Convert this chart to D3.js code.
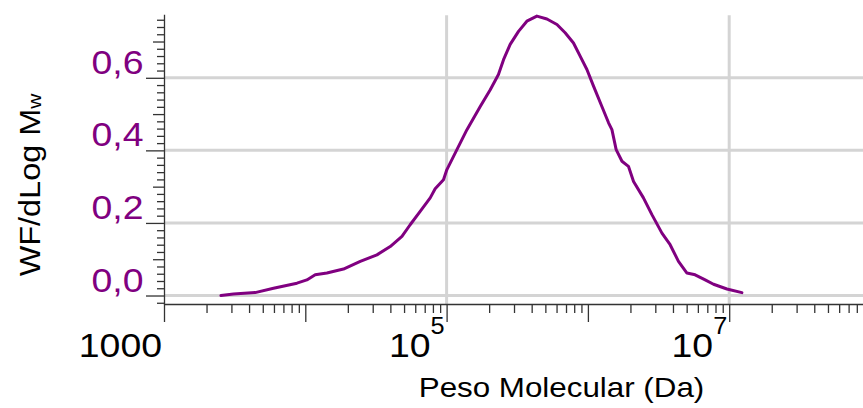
<!DOCTYPE html>
<html>
<head>
<meta charset="utf-8">
<script src="https://cdn.jsdelivr.net/npm/d3@7"></script>
<style>
  html, body { margin: 0; padding: 0; background: #fff; }
  svg { display: block; font-family: "Liberation Sans", Arial, sans-serif; }
</style>
</head>
<body>
<svg id="chart" width="863" height="408"></svg>
<script>
// Molecular weight distribution (GPC): WF/dLog Mw against molar mass in Da
const molWeight = [
  2529, 3105, 4416, 5957, 8730, 10260, 11750, 14220, 18620, 24490,
  32140, 39900, 48310, 55210, 65010, 76560, 82990, 95060, 100500, 118300,
  139300, 173000, 203700, 232800, 252900, 281800, 322800, 369800, 435500, 512900,
  603900, 690200, 790700, 883100, 984000, 1096000, 1256000, 1400000, 1479000, 1585000,
  1742000, 1936000, 2104000, 2472000, 2838000, 3342000, 3819000, 4375000, 5023000, 5741000,
  6761000, 7745000, 9638000, 12300000
];
const wfDlogMw = [
  0.000, 0.004, 0.008, 0.020, 0.034, 0.043, 0.057, 0.062, 0.073, 0.094,
  0.112, 0.135, 0.163, 0.195, 0.232, 0.269, 0.294, 0.319, 0.347, 0.402,
  0.457, 0.521, 0.567, 0.609, 0.650, 0.692, 0.728, 0.756, 0.770, 0.762,
  0.747, 0.724, 0.696, 0.659, 0.623, 0.577, 0.521, 0.476, 0.457, 0.402,
  0.370, 0.356, 0.314, 0.269, 0.223, 0.172, 0.140, 0.094, 0.062, 0.057,
  0.043, 0.031, 0.018, 0.008
];

// Axis ticks and labels
const yLabelTicks = [0.0, 0.2, 0.4, 0.6];
const yLabelText = ["0,0", "0,2", "0,4", "0,6"];
const xGridTicks = [1e5, 1e7];
const xLabels = [
  { value: 1e3, base: "1000", exp: "" },
  { value: 1e5, base: "10", exp: "5" },
  { value: 1e7, base: "10", exp: "7" }
];
const xTitle = "Peso Molecular (Da)";
const yTitle = "WF/dLog M";
const yTitleSub = "w";

const purple = "#800080";
const gridColor = "#d4d4d4";
const axisColor = "#333";
const stretch = 1.1;

const svg = d3.select("#chart");
const W = 863, H = 408;

const x = d3.scaleLog().domain([1e3, 1e8]).range([164, 870.5]);
const y = d3.scaleLinear().domain([-0.0234, 0.775]).range([304, 14.3]);

// grid
const grid = svg.append("g");
grid.selectAll("line.h").data(yLabelTicks).join("line")
  .attr("x1", x.range()[0]).attr("x2", W)
  .attr("y1", d => y(d)).attr("y2", d => y(d))
  .attr("stroke", gridColor).attr("stroke-width", 3);
grid.selectAll("line.v").data(xGridTicks).join("line")
  .attr("x1", d => x(d)).attr("x2", d => x(d))
  .attr("y1", y.range()[1] + 1).attr("y2", y.range()[0])
  .attr("stroke", gridColor).attr("stroke-width", 3);

// x axis: minor ticks 2..9 in every decade, longer ticks at powers of ten
const xTickValues = [];
for (let e = 3; e <= 7; e++) {
  for (let k = 1; k <= 9; k++) xTickValues.push(k * Math.pow(10, e));
}
const isDecade = v => Math.abs(Math.log10(v) - Math.round(Math.log10(v))) < 1e-9;

const xAxis = svg.append("g")
  .attr("transform", `translate(0,${y.range()[0]})`)
  .call(d3.axisBottom(x).tickValues(xTickValues).tickSize(9).tickSizeOuter(0).tickFormat(""));
xAxis.selectAll(".tick line").filter(d => isDecade(d)).attr("y2", 18);

// y axis: ticks every 0.02, medium at 0.1, long at 0.2
const yTickValues = d3.range(-1, 39).map(i => +(i * 0.02).toFixed(2));
const yAxis = svg.append("g")
  .attr("transform", `translate(${x.range()[0]},0)`)
  .call(d3.axisLeft(y).tickValues(yTickValues).tickSize(7).tickSizeOuter(0).tickFormat(""));
yAxis.selectAll(".tick line").attr("x2", d => {
  const n = Math.round(d * 100);
  if (n % 20 === 0) return -18;
  if (n % 10 === 0) return -11;
  return -7;
});

[xAxis, yAxis].forEach(a => {
  a.select(".domain").attr("stroke", axisColor).attr("stroke-width", 1.3);
  a.selectAll(".tick line").attr("stroke", axisColor).attr("stroke-width", 1.3);
});

// y tick labels
yLabelTicks.forEach((v, i) => {
  svg.append("g")
    .attr("transform", `translate(143.5,${y(v) - 4}) scale(${stretch},1)`)
    .append("text")
    .attr("text-anchor", "end")
    .attr("font-size", 34)
    .attr("fill", purple)
    .text(yLabelText[i]);
});

// x tick labels
xLabels.forEach(l => {
  const t = svg.append("g")
    .attr("transform", `translate(${x(l.value) - 2},357) scale(${stretch},1)`)
    .append("text")
    .attr("text-anchor", "end")
    .attr("fill", "#000");
  t.append("tspan").attr("font-size", 34).text(l.base);
  if (l.exp) {
    t.append("tspan").attr("font-size", 23).attr("dy", -22.7).text(l.exp);
  }
});

// axis titles
svg.append("g")
  .attr("transform", `translate(561.5,397) scale(${stretch},1)`)
  .append("text")
  .attr("text-anchor", "middle")
  .attr("font-size", 28.5)
  .attr("fill", "#000")
  .text(xTitle);

const yt = svg.append("g")
  .attr("transform", `translate(39.5,185) rotate(-90) scale(${stretch},1)`)
  .append("text")
  .attr("text-anchor", "middle")
  .attr("font-size", 29.5)
  .attr("fill", "#000");
yt.append("tspan").text(yTitle);
yt.append("tspan").attr("font-size", 19).attr("dy", 1).text(yTitleSub);

// distribution curve
const points = molWeight.map((m, i) => ({ m, v: wfDlogMw[i] }));
svg.append("path")
  .datum(points)
  .attr("fill", "none")
  .attr("stroke", purple)
  .attr("stroke-width", 3)
  .attr("stroke-linejoin", "round")
  .attr("stroke-linecap", "round")
  .attr("d", d3.line().x(d => x(d.m)).y(d => y(d.v)));
</script>
</body>
</html>
